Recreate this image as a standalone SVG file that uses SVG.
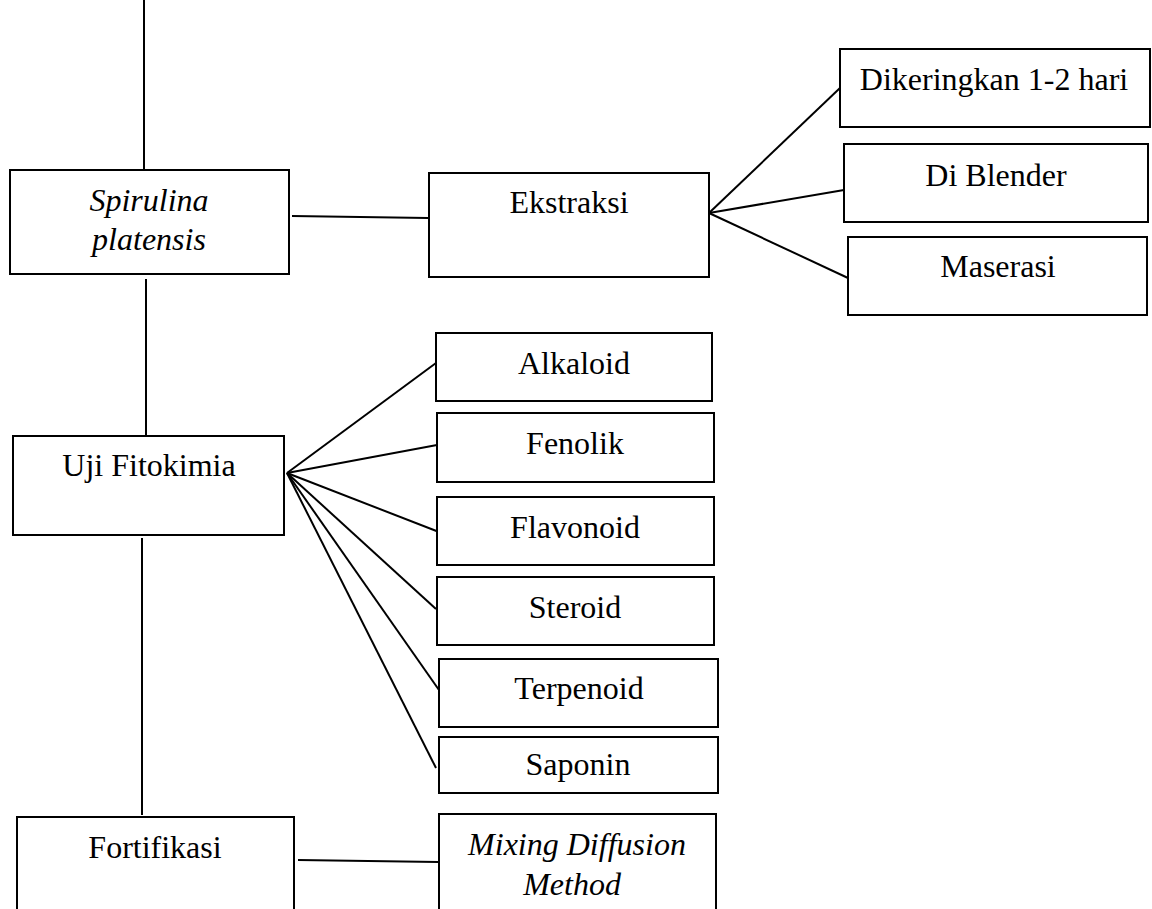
<svg xmlns="http://www.w3.org/2000/svg" width="1152" height="909" viewBox="0 0 1152 909">
<style>
.box{fill:#fff;stroke:#000;stroke-width:2}
.ln{stroke:#000;stroke-width:2;fill:none}
text{font-family:"Liberation Serif","Times New Roman",serif;font-size:32px;fill:#000;text-anchor:middle}
.it{font-style:italic}
</style>
<rect width="1152" height="909" fill="#fff"/>
<g id="connectors">
<line class="ln" x1="144" y1="0" x2="144" y2="171"/>
<line class="ln" x1="292" y1="216" x2="428" y2="218"/>
<line class="ln" x1="146" y1="279" x2="146" y2="436"/>
<line class="ln" x1="142" y1="538" x2="142" y2="815"/>
<line class="ln" x1="298" y1="860" x2="438" y2="862"/>
<line class="ln" x1="709" y1="213" x2="840" y2="88"/>
<line class="ln" x1="709" y1="213" x2="844" y2="190"/>
<line class="ln" x1="709" y1="213" x2="848" y2="278"/>
<line class="ln" x1="287" y1="473" x2="436" y2="363"/>
<line class="ln" x1="287" y1="473" x2="437" y2="445"/>
<line class="ln" x1="287" y1="473" x2="439" y2="532"/>
<line class="ln" x1="287" y1="473" x2="436" y2="609"/>
<line class="ln" x1="287" y1="473" x2="439" y2="690"/>
<line class="ln" x1="287" y1="473" x2="436" y2="768"/>
</g>
<g id="spirulina"><rect class="box" x="10" y="170" width="279" height="104"/><text class="it" x="149" y="211">Spirulina</text><text class="it" x="149" y="250">platensis</text></g>
<g id="ekstraksi"><rect class="box" x="429" y="173" width="280" height="104"/><text x="569" y="213">Ekstraksi</text></g>
<g id="dikeringkan"><rect class="box" x="840" y="49" width="310" height="78"/><text x="994" y="90">Dikeringkan 1-2 hari</text></g>
<g id="diblender"><rect class="box" x="844" y="144" width="304" height="78"/><text x="996" y="186">Di Blender</text></g>
<g id="maserasi"><rect class="box" x="848" y="237" width="299" height="78"/><text x="998" y="277">Maserasi</text></g>
<g id="ujifitokimia"><rect class="box" x="13" y="436" width="271" height="99"/><text x="149" y="476">Uji Fitokimia</text></g>
<g id="alkaloid"><rect class="box" x="436" y="333" width="276" height="68"/><text x="574" y="374">Alkaloid</text></g>
<g id="fenolik"><rect class="box" x="437" y="413" width="277" height="69"/><text x="575" y="454">Fenolik</text></g>
<g id="flavonoid"><rect class="box" x="437" y="497" width="277" height="68"/><text x="575" y="538">Flavonoid</text></g>
<g id="steroid"><rect class="box" x="437" y="577" width="277" height="68"/><text x="575" y="618">Steroid</text></g>
<g id="terpenoid"><rect class="box" x="439" y="659" width="279" height="68"/><text x="579" y="699">Terpenoid</text></g>
<g id="saponin"><rect class="box" x="439" y="737" width="279" height="56"/><text x="578" y="775">Saponin</text></g>
<g id="fortifikasi"><rect class="box" x="17" y="817" width="277" height="110"/><text x="155" y="858">Fortifikasi</text></g>
<g id="mixing"><rect class="box" x="439" y="814" width="277" height="113"/><text class="it" x="577" y="855">Mixing Diffusion</text><text class="it" x="572" y="895">Method</text></g>
</svg>
